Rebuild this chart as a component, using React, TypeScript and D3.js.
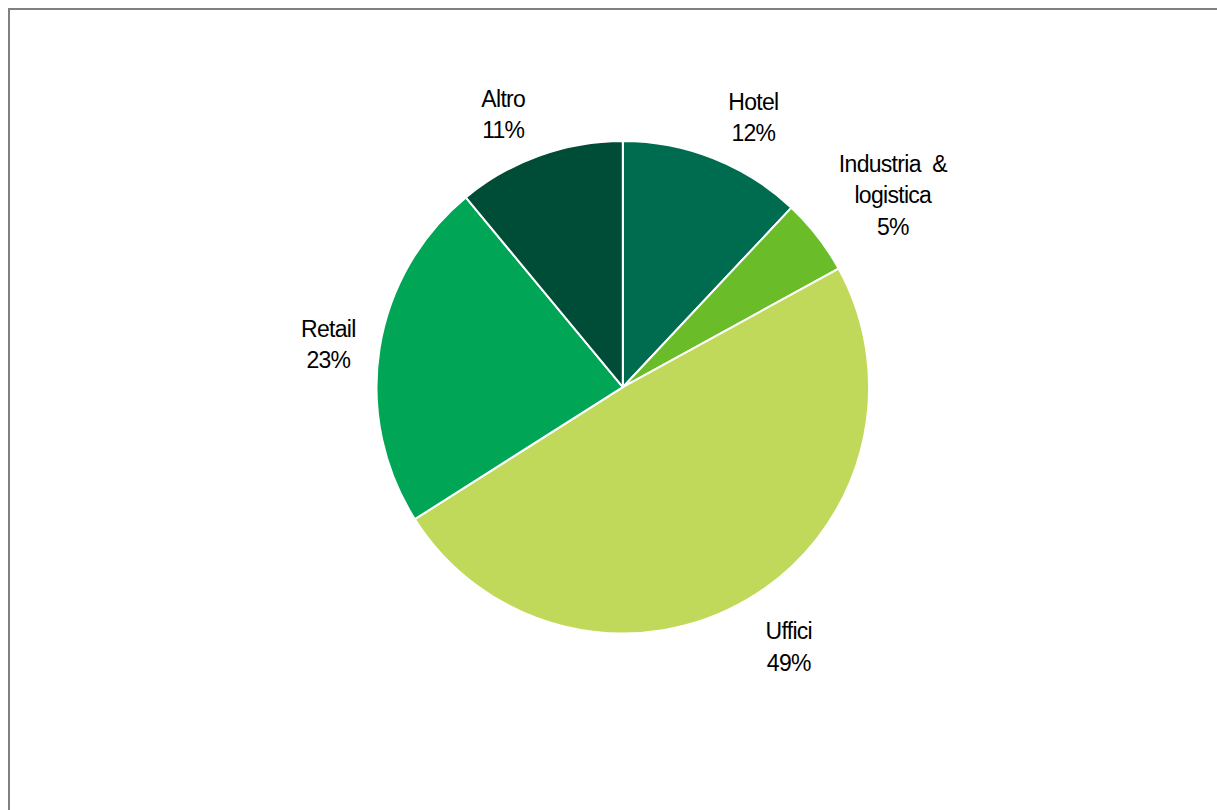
import React, { useEffect, useRef } from "react";
import * as d3 from "d3";

const categories = ["Hotel", "Industria & logistica", "Uffici", "Retail", "Altro"];
const labelLines = [["Hotel"], ["Industria  &", "logistica"], ["Uffici"], ["Retail"], ["Altro"]];
const values = [12, 5, 49, 23, 11];
const colors = ["#006C4F", "#6ABD29", "#C0D95B", "#00A556", "#004D37"];

const W = 1217;
const H = 810;
const CX = 622.8;
const CY = 387.2;
const R = 246.3;
const FONT = 23;
const LINE_H = 31.5;

export default function App() {
  const ref = useRef<SVGSVGElement | null>(null);

  useEffect(() => {
    const svg = d3.select(ref.current);
    svg.selectAll("*").remove();

    svg
      .append("path")
      .attr("d", `M9,${H + 10} L9,9 L${W + 10},9`)
      .attr("fill", "none")
      .attr("stroke", "#808080")
      .attr("stroke-width", 2);

    const data = categories.map((c, i) => ({ c, v: values[i], i }));
    const pie = d3
      .pie<any>()
      .sort(null)
      .value((d) => d.v)
      .startAngle(0)
      .endAngle(2 * Math.PI);
    const arcs = pie(data);
    const arc = d3.arc<any>().innerRadius(0).outerRadius(R);

    const g = svg.append("g").attr("transform", `translate(${CX},${CY})`);
    g.selectAll("path.slice")
      .data(arcs)
      .join("path")
      .attr("class", "slice")
      .attr("d", arc as any)
      .attr("fill", (d: any) => colors[d.data.i])
      .attr("stroke", "#ffffff")
      .attr("stroke-width", 2)
      .attr("stroke-linejoin", "round");

    const capH = 16;
    const edgeR = R - 1;
    arcs.forEach((a: any) => {
      const lines = [...labelLines[a.data.i], `${a.data.v}%`];
      const mid = (a.startAngle + a.endAngle) / 2;
      const s = Math.sin(mid);
      const c = Math.cos(mid);
      const ex = edgeR * s;
      const ey = -edgeR * c;

      const t = g
        .append("text")
        .attr("font-family", "'Liberation Sans', Arial, sans-serif")
        .attr("font-size", FONT)
        .attr("letter-spacing", -0.7)
        .attr("fill", "#000000")
        .attr("text-anchor", "middle")
        .style("white-space", "pre");
      const spans = lines.map((l) => t.append("tspan").text(l));
      let w = 0;
      spans.forEach((sp) => {
        const node = sp.node() as SVGTSpanElement;
        w = Math.max(w, node.getComputedTextLength());
      });
      const h = (lines.length - 1) * LINE_H + capH;
      const sign = s >= 0 ? 1 : -1;
      const dx = sign * (w / 2) + sign * 25 * Math.sqrt(Math.abs(s));
      const gap = c < 0 ? 33 : 21;
      const dy = -c * (h / 2) * Math.min(1, Math.abs(c) * 1.8) - c * gap - (c > 0 ? (h - 48) * 0.15 : 0);
      const lx = ex + dx;
      const ly = ey + dy;
      const firstBaseline = ly - h / 2 + capH;
      spans.forEach((sp, k) => {
        sp.attr("x", lx).attr("y", firstBaseline + k * LINE_H);
      });
    });
  }, []);

  return (
    <svg
      ref={ref}
      width={W}
      height={H}
      style={{ position: "absolute", left: 0, top: 0, background: "#ffffff" }}
    />
  );
}
